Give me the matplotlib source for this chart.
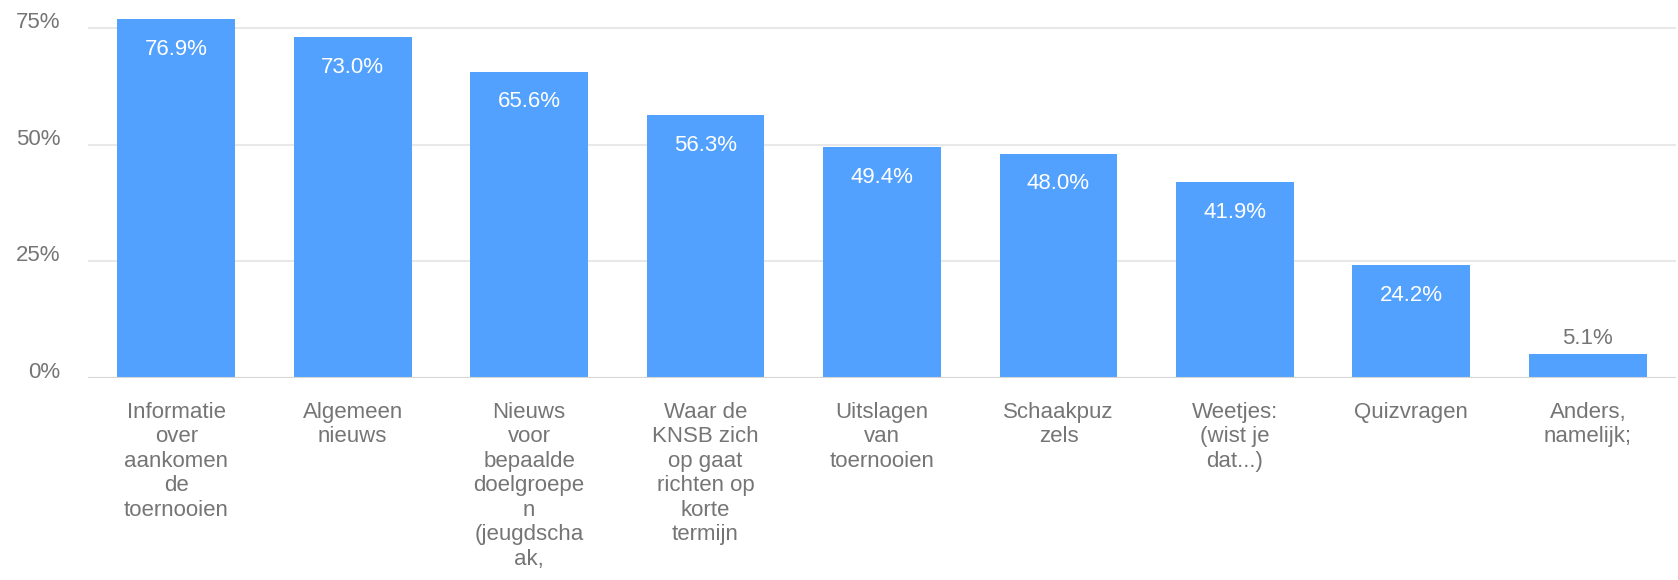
import matplotlib
matplotlib.use("Agg")
import matplotlib.pyplot as plt
from matplotlib.ticker import FuncFormatter

categories = [
    "Informatie\nover\naankomen\nde\ntoernooien",
    "Algemeen\nnieuws",
    "Nieuws\nvoor\nbepaalde\ndoelgroepe\nn\n(jeugdscha\nak,",
    "Waar de\nKNSB zich\nop gaat\nrichten op\nkorte\ntermijn",
    "Uitslagen\nvan\ntoernooien",
    "Schaakpuz\nzels",
    "Weetjes:\n(wist je\ndat...)",
    "Quizvragen",
    "Anders,\nnamelijk;",
]
values = [76.9, 73.0, 65.6, 56.3, 49.4, 48.0, 41.9, 24.2, 5.1]
yticks = [0, 25, 50, 75]

plt.rcParams['font.family'] = ['Liberation Sans', 'DejaVu Sans']
GRAY = '#757575'
BAR = '#53a1fe'

fig = plt.figure(figsize=(16.78, 5.8), dpi=100)
ax = fig.add_axes([88 / 1678, 202 / 580, 1588 / 1678, 378 / 580])

x = list(range(len(values)))
ax.bar(x, values, width=0.668, color=BAR, zorder=3)

ax.set_xlim(-0.5, len(values) - 0.5)
ax.set_ylim(0, 81)
ax.set_yticks(yticks)
ax.yaxis.set_major_formatter(FuncFormatter(lambda v, p: f"{int(v)}%"))
ax.grid(axis='y', color='#e8e8e8', linewidth=1.5, zorder=0)
ax.axhline(0, color='#d6d6d6', linewidth=1.5, zorder=4)
for s in ax.spines.values():
    s.set_visible(False)
ax.tick_params(axis='y', length=0, pad=20, labelsize=16, labelcolor=GRAY)
ax.tick_params(axis='x', length=0, pad=17, labelsize=16, labelcolor=GRAY)
ax.set_xticks(x)
ax.set_xticklabels(categories, linespacing=1.22)
for t in ax.get_yticklabels():
    t.set_verticalalignment('baseline')

for xi, v in zip(x, values):
    if v > 10:
        ax.annotate(f"{v:.1f}%", (xi, v), xytext=(0, -14), textcoords='offset points',
                    ha='center', va='top', color='white', fontsize=16, zorder=5)
    else:
        ax.annotate(f"{v:.1f}%", (xi, v), xytext=(0, 4), textcoords='offset points',
                    ha='center', va='bottom', color=GRAY, fontsize=16, zorder=5)

fig.savefig("out.png", dpi=100)
